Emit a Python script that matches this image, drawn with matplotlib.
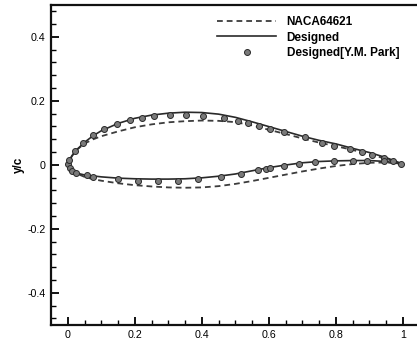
import matplotlib
matplotlib.use("Agg")
import matplotlib.pyplot as plt
import numpy as np

plt.rcParams['font.family'] = ['Liberation Sans', 'DejaVu Sans']

# chordwise stations shared by the two line profiles
x_stations = [0, 0.005, 0.0125, 0.025, 0.05, 0.075, 0.1, 0.15, 0.2, 0.25, 0.3,
              0.35, 0.4, 0.45, 0.5, 0.55, 0.6, 0.65, 0.7, 0.75, 0.8, 0.85,
              0.9, 0.95, 1.0]

# NACA 64-621 baseline
naca_upper = [0, 0.013, 0.028, 0.045, 0.066, 0.079, 0.089, 0.104, 0.117, 0.126,
              0.1325, 0.136, 0.138, 0.137, 0.133, 0.123, 0.109, 0.096, 0.082,
              0.069, 0.058, 0.046, 0.033, 0.018, 0.001]
naca_lower = [0, -0.011, -0.018, -0.027, -0.038, -0.045, -0.050, -0.058, -0.064,
              -0.068, -0.071, -0.072, -0.071, -0.067, -0.060, -0.051, -0.041,
              -0.031, -0.021, -0.012, -0.004, 0.002, 0.006, 0.007, 0.002]

# designed profile
des_upper = [0, 0.013, 0.027, 0.045, 0.070, 0.090, 0.106, 0.129, 0.145, 0.155,
             0.161, 0.164, 0.163, 0.158, 0.148, 0.134, 0.119, 0.104, 0.089,
             0.076, 0.065, 0.051, 0.038, 0.022, 0.002]
des_lower = [0, -0.010, -0.018, -0.026, -0.032, -0.035, -0.038, -0.042, -0.044,
             -0.045, -0.045, -0.044, -0.041, -0.036, -0.029, -0.019, -0.009,
             -0.001, 0.006, 0.010, 0.012, 0.013, 0.013, 0.010, 0.001]

# reference points (Y.M. Park)
park_up_x = [0.001, 0.004, 0.022, 0.044, 0.075, 0.109, 0.146, 0.187, 0.222, 0.257,
             0.304, 0.352, 0.404, 0.466, 0.507, 0.539, 0.569, 0.603, 0.645,
             0.708, 0.759, 0.795, 0.843, 0.877, 0.909, 0.943, 0.993]
park_up_y = [0.001, 0.015, 0.042, 0.067, 0.093, 0.112, 0.128, 0.140, 0.147, 0.151,
             0.155, 0.156, 0.153, 0.147, 0.138, 0.129, 0.122, 0.111, 0.101,
             0.086, 0.069, 0.059, 0.050, 0.039, 0.031, 0.022, 0.001]
park_lo_x = [0.006, 0.014, 0.024, 0.056, 0.0755, 0.150, 0.210, 0.268, 0.329, 0.389,
             0.456, 0.516, 0.568, 0.591, 0.603, 0.645, 0.690, 0.737, 0.795,
             0.852, 0.892, 0.943, 0.971]
park_lo_y = [-0.011, -0.020, -0.027, -0.033, -0.0375, -0.046, -0.050, -0.050,
             -0.050, -0.045, -0.0375, -0.028, -0.018, -0.014, -0.010, -0.005,
             0.003, 0.0075, 0.011, 0.011, 0.0105, 0.0105, 0.0105]

x_ticks = [0, 0.2, 0.4, 0.6, 0.8, 1.0]
x_ticklabels = ['0', '0.2', '0.4', '0.6', '0.8', '1']
y_ticks = [-0.4, -0.2, 0, 0.2, 0.4]
y_ticklabels = ['-0.4', '-0.2', '0', '0.2', '0.4']


def closed(xs, up, lo):
    xx = list(xs[::-1]) + list(xs[1:])
    yy = list(up[::-1]) + list(lo[1:])
    return xx, yy


W, H = 417, 341
fig = plt.figure(figsize=(W / 100, H / 100), dpi=100)
ax_l, ax_t, ax_b = 51, 4.7, 324.7
ax_r = 68 + 335 * 1.05
ax = fig.add_axes([ax_l / W, 1 - ax_b / H, (ax_r - ax_l) / W, (ax_b - ax_t) / H])

nx, ny = closed(x_stations, naca_upper, naca_lower)
ax.plot(nx, ny, ls=(0, (3.2, 2.2)), color='#3c3c3c', lw=1.3, label='NACA64621')
dx, dy = closed(x_stations, des_upper, des_lower)
ax.plot(dx, dy, ls='-', color='#2a2a2a', lw=1.2, label='Designed')
ax.plot(park_up_x + park_lo_x, park_up_y + park_lo_y, ls='none', marker='o',
        ms=4.3, mfc='#7a7a7a', mec='#2a2a2a', mew=0.7,
        label='Designed[Y.M. Park]')

ax.set_xlim(-0.05, 1.05)
ax.set_ylim(-0.5, 0.5)
ax.set_xticks(x_ticks)
ax.set_xticklabels(x_ticklabels)
ax.set_yticks(y_ticks)
ax.set_yticklabels(y_ticklabels)
ax.set_xticks(np.arange(0, 1.0001, 0.05), minor=True)
ax.set_yticks(np.arange(-0.48, 0.481, 0.04), minor=True)

ax.tick_params(which='both', direction='in', top=False, right=False,
               labelsize=7.7, colors='black', pad=4)
ax.tick_params(which='major', length=6, width=1.3)
ax.tick_params(which='minor', length=3.5, width=1.0)

for side in ('left', 'bottom', 'top'):
    ax.spines[side].set_linewidth(1.6)
    ax.spines[side].set_color('#111111')
ax.spines['right'].set_visible(False)

ax.set_ylabel('y/c', fontsize=8.5, fontweight='bold', labelpad=2)

leg = ax.legend(loc='upper left', bbox_to_anchor=(217 / W, 1 - 16 / H),
                bbox_transform=fig.transFigure, frameon=False, numpoints=1,
                handlelength=5.0, handletextpad=0.9, labelspacing=0.3,
                borderpad=0, borderaxespad=0,
                prop={'size': 8.5, 'weight': 'bold'})

fig.savefig('out.png', dpi=100)
